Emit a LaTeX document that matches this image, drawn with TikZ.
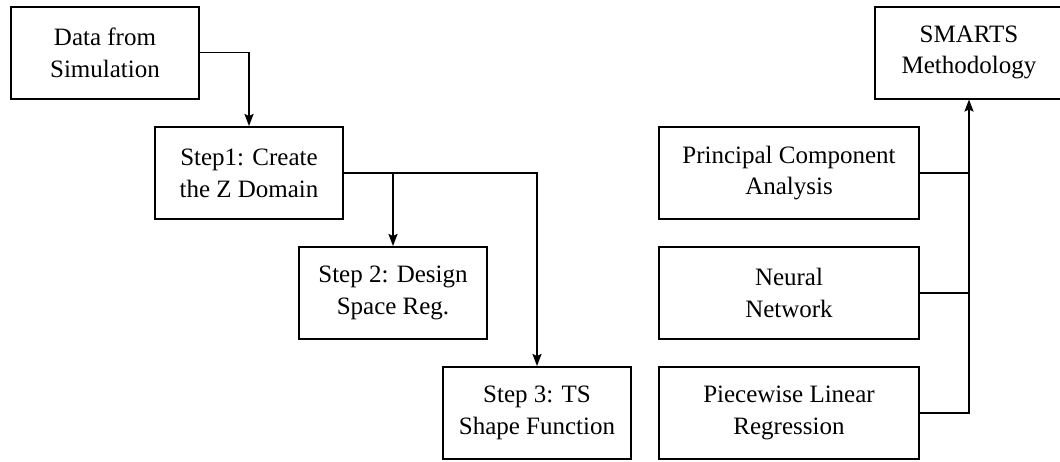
\documentclass[tikz,border=0pt]{standalone}
\usepackage{fontspec}
\setmainfont{Liberation Serif}
\usetikzlibrary{arrows.meta}
\begin{document}
\begin{tikzpicture}[x=1pt,y=-1pt,
  box/.style={draw, line width=2pt, align=center, inner sep=0pt,
    minimum height=92pt, font=\fontsize{25}{31.7}\selectfont},
  narrowbox/.style={box, minimum width=188pt},
  widebox/.style={box, minimum width=260pt},
  link/.style={line width=1.8pt},
  arrowlink/.style={link, -{Stealth[length=12pt,width=9pt,inset=2pt]}}]
  \useasboundingbox (0,0) rectangle (1060,461);

  % pipeline on the left
  \node[narrowbox] (data) at (105,52.5) {Data from\\Simulation};
  \node[narrowbox] (s1)   at (249,173)  {Step1: Create\\the Z Domain};
  \node[narrowbox] (s2)   at (393,293)  {Step 2: Design\\Space Reg.};
  \node[narrowbox] (s3)   at (537,413)  {Step 3: TS\\Shape Function};

  % methods feeding the methodology
  \node[narrowbox] (sm)  at (969,52.5) {SMARTS\\Methodology};
  \node[widebox]   (pca) at (789,173)  {Principal Component\\Analysis};
  \node[widebox]   (nn)  at (789,293)  {Neural\\Network};
  \node[widebox]   (plr) at (789,413)  {Piecewise Linear\\Regression};

  \draw[arrowlink] (data.east) -| (s1.north);
  \draw[arrowlink] (s1.east) -| (s2.north);
  \draw[arrowlink] (s1.east) -| (s3.north);

  \draw[arrowlink] (plr.east) -| (sm.south);
  \draw[link] (pca.east) -- (pca.east -| sm.south);
  \draw[link] (nn.east) -- (nn.east -| sm.south);
\end{tikzpicture}
\end{document}
